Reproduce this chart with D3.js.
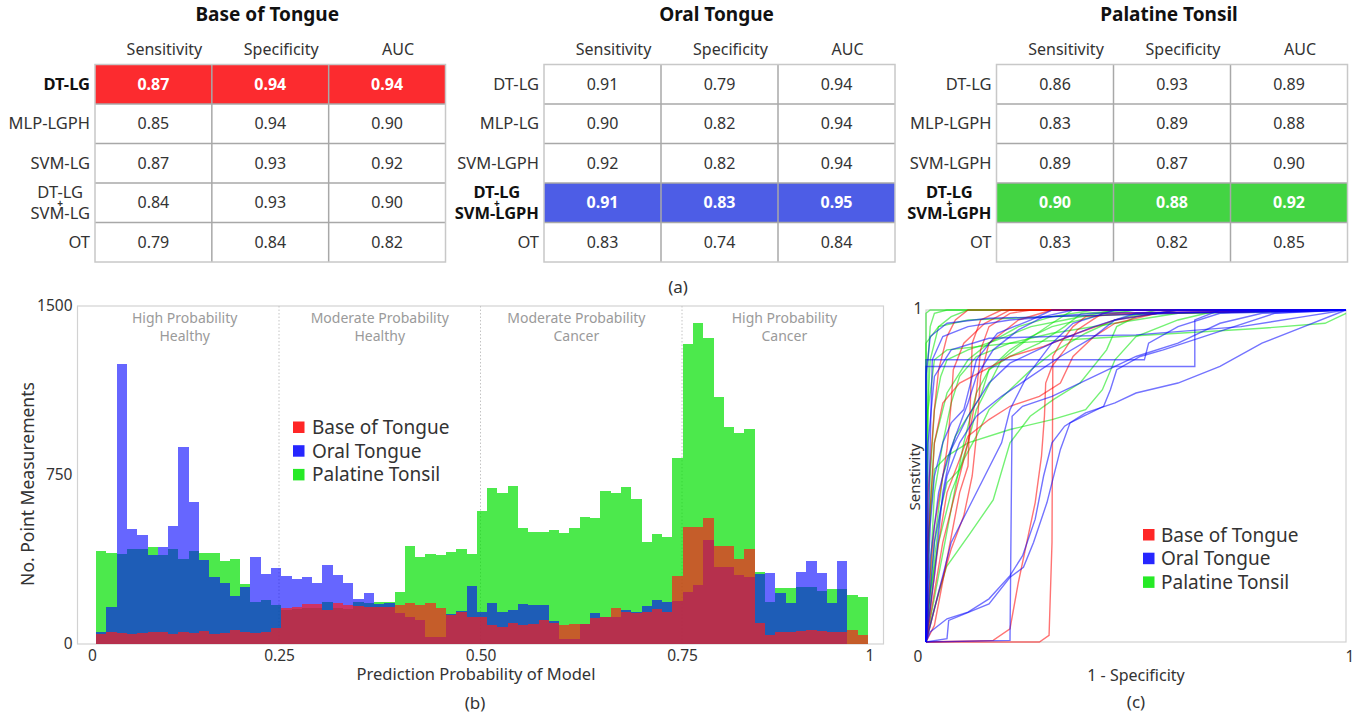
<!DOCTYPE html>
<html>
<head>
<meta charset="utf-8">
<script src="https://cdn.jsdelivr.net/npm/d3@7"></script>
<style>
body { margin: 0; background: #fff; }
text { font-family: "Noto Sans", "Open Sans", sans-serif; fill: #333; }
</style>
</head>
<body>
<svg id="fig" width="1363" height="717"></svg>
<script>
// ---- (a) tables ----
var sites = ["Base of Tongue", "Oral Tongue", "Palatine Tonsil"];
var metrics = ["Sensitivity", "Specificity", "AUC"];
var botModels = ["DT-LG", "MLP-LGPH", "SVM-LG", "DT-LG + SVM-LG", "OT"];
var otModels = ["DT-LG", "MLP-LG", "SVM-LGPH", "DT-LG + SVM-LGPH", "OT"];
var ptModels = ["DT-LG", "MLP-LGPH", "SVM-LGPH", "DT-LG + SVM-LGPH", "OT"];
var botScores = [[0.87, 0.94, 0.94], [0.85, 0.94, 0.90], [0.87, 0.93, 0.92], [0.84, 0.93, 0.90], [0.79, 0.84, 0.82]];
var otScores = [[0.91, 0.79, 0.94], [0.90, 0.82, 0.94], [0.92, 0.82, 0.94], [0.91, 0.83, 0.95], [0.83, 0.74, 0.84]];
var ptScores = [[0.86, 0.93, 0.89], [0.83, 0.89, 0.88], [0.89, 0.87, 0.90], [0.90, 0.88, 0.92], [0.83, 0.82, 0.85]];
var bestRow = [0, 3, 3];

// ---- (b) histogram, 75 bins ----
var regionNames = [["High Probability", "Healthy"], ["Moderate Probability", "Healthy"], ["Moderate Probability", "Cancer"], ["High Probability", "Cancer"]];
var regionBreaks = [0.25, 0.5, 0.75];
var binStart = 0.023, binWidth = 0.01277;
var ptCounts = [414,405,399,420,420,429,394,420,376,414,
  402,402,368,376,266,188,195,173,150,155,
  160,160,188,160,155,185,180,188,188,232,
  436,388,399,395,410,420,399,592,691,672,
  701,516,496,496,506,491,513,562,558,679,
  671,695,643,451,488,473,824,1330,1426,1357,
  1098,962,935,953,320,188,247,247,252,252,
  237,242,242,217,210];
var otCounts = [55,166,1241,512,482,394,429,525,876,632,
  373,299,269,213,252,385,311,336,302,287,
  296,272,351,305,272,200,228,178,180,136,
  121,107,33,30,135,145,257,143,183,143,
  151,178,172,172,104,21,21,90,139,118,
  121,151,143,169,195,188,190,232,262,462,
  340,343,306,299,311,316,228,183,321,368,
  316,183,368,0,0];
var botCounts = [43,52,47,43,47,55,52,43,55,47,
  58,43,50,62,55,50,55,70,158,166,
  178,178,151,180,173,169,163,163,166,173,
  183,173,180,158,129,143,121,121,84,77,
  92,84,88,107,95,84,88,88,114,118,
  158,141,136,141,154,143,302,521,521,558,
  435,435,376,423,92,40,53,53,59,62,
  59,53,53,62,40];

// ---- (c) ROC curves, [fpr, tpr] ----
var rocBot = [
  [[0,0],[0.27,0],[0.293,0.02],[0.3,0.3],[0.302,0.86],[0.32,0.9],[0.35,0.95],[0.38,0.98],[0.5,0.99],[1,1]],
  [[0,0],[0.16,0.005],[0.2,0.04],[0.22,0.18],[0.24,0.3],[0.26,0.42],[0.275,0.56],[0.282,0.68],[0.285,0.78],[0.3,0.83],[0.33,0.88],[0.36,0.94],[0.42,0.99],[1,1]],
  [[0,0],[0.01,0.1],[0.03,0.3],[0.05,0.45],[0.08,0.55],[0.1,0.62],[0.15,0.67],[0.2,0.71],[0.27,0.74],[0.32,0.78],[0.35,0.86],[0.4,0.92],[0.45,0.96],[0.55,0.99],[1,1]],
  [[0,0],[0.005,0.3],[0.02,0.6],[0.04,0.72],[0.08,0.78],[0.14,0.82],[0.2,0.86],[0.28,0.89],[0.36,0.93],[0.45,0.97],[0.6,1],[1,1]],
  [[0,0],[0.02,0.05],[0.05,0.25],[0.08,0.45],[0.1,0.53],[0.105,0.7],[0.11,0.9],[0.13,0.97],[0.18,1],[1,1]],
  [[0,0],[0.005,0.45],[0.02,0.7],[0.03,0.82],[0.05,0.92],[0.07,0.97],[0.1,1],[1,1]],
  [[0,0],[0.02,0.15],[0.04,0.3],[0.06,0.4],[0.08,0.5],[0.1,0.6],[0.12,0.75],[0.13,0.88],[0.15,0.95],[0.2,0.99],[0.25,1],[1,1]],
  [[0,0],[0.01,0.2],[0.02,0.35],[0.04,0.5],[0.05,0.58],[0.06,0.72],[0.065,0.82],[0.09,0.9],[0.14,0.96],[0.2,1],[1,1]],
  [[0,0],[0.03,0.15],[0.06,0.28],[0.09,0.38],[0.11,0.5],[0.12,0.62],[0.13,0.8],[0.15,0.9],[0.22,0.97],[0.3,1],[1,1]]
];
var rocOt = [
  [[0,0],[0.05,0.01],[0.054,0.065],[0.15,0.115],[0.2,0.195],[0.232,0.225],[0.256,0.3],[0.288,0.42],[0.32,0.58],[0.343,0.66],[0.375,0.68],[0.423,0.71],[0.439,0.76],[0.454,0.82],[0.51,0.86],[0.565,0.88],[0.71,0.94],[0.83,0.99],[1,1]],
  [[0,0],[0.01,0.03],[0.05,0.07],[0.1,0.09],[0.15,0.13],[0.2,0.2],[0.23,0.26],[0.26,0.37],[0.28,0.5],[0.3,0.6],[0.33,0.65],[0.38,0.69],[0.45,0.72],[0.5,0.75],[0.6,0.78],[0.7,0.83],[0.8,0.9],[0.9,0.95],[1,1]],
  [[0,0],[0,0.83],[0.64,0.83],[0.64,0.97],[0.7,1],[1,1]],
  [[0,0],[0,0.85],[0.52,0.85],[0.53,0.9],[0.6,0.95],[0.7,0.99],[1,1]],
  [[0,0],[0.2,0.005],[0.205,0.68],[0.23,0.71],[0.3,0.74],[0.4,0.8],[0.5,0.86],[0.6,0.9],[0.7,0.96],[0.8,0.99],[1,1]],
  [[0,0],[0.005,0.3],[0.01,0.6],[0.015,0.85],[0.04,0.92],[0.1,0.95],[0.2,0.97],[0.4,0.99],[1,1]],
  [[0,0],[0.02,0.2],[0.04,0.45],[0.06,0.58],[0.1,0.68],[0.15,0.78],[0.2,0.84],[0.3,0.9],[0.4,0.95],[0.5,0.99],[1,1]],
  [[0,0],[0.02,0.3],[0.05,0.5],[0.08,0.6],[0.12,0.68],[0.18,0.74],[0.25,0.8],[0.32,0.86],[0.4,0.92],[0.45,0.97],[0.6,1],[1,1]],
  [[0,0],[0.03,0.15],[0.06,0.3],[0.1,0.4],[0.14,0.5],[0.18,0.6],[0.2,0.7],[0.24,0.8],[0.3,0.9],[0.35,0.96],[0.45,1],[1,1]],
  [[0,0],[0,0.8],[0.01,0.92],[0.05,0.96],[0.15,0.975],[0.3,0.98],[0.6,0.99],[1,1]],
  [[0,0],[0.01,0.25],[0.03,0.45],[0.05,0.55],[0.07,0.62],[0.1,0.72],[0.12,0.8],[0.16,0.88],[0.22,0.94],[0.28,0.98],[0.35,1],[1,1]],
  [[0,0],[0.01,0.35],[0.02,0.5],[0.04,0.6],[0.06,0.66],[0.09,0.7],[0.12,0.85],[0.17,0.93],[0.25,0.97],[0.3,1],[1,1]],
  [[0,0],[0.005,0.6],[0.02,0.8],[0.06,0.88],[0.15,0.915],[0.3,0.92],[0.5,0.925],[0.75,0.95],[0.9,0.98],[1,1]]
];
var rocPt = [
  [[0,0],[0.005,0.7],[0.02,0.85],[0.05,0.88],[0.2,0.9],[0.4,0.915],[0.6,0.93],[0.8,0.945],[0.95,0.96],[1,0.99]],
  [[0,0],[0.02,0.1],[0.049,0.227],[0.105,0.327],[0.16,0.428],[0.2,0.6],[0.248,0.68],[0.303,0.73],[0.367,0.78],[0.43,0.88],[0.454,0.95],[0.5,0.98],[0.6,1],[1,1]],
  [[0,0],[0.005,0.3],[0.02,0.52],[0.05,0.56],[0.1,0.6],[0.2,0.64],[0.3,0.67],[0.38,0.7],[0.42,0.76],[0.45,0.85],[0.5,0.92],[0.6,0.97],[0.7,1],[1,1]],
  [[0,0],[0.01,0.4],[0.02,0.6],[0.05,0.75],[0.1,0.85],[0.15,0.9],[0.22,0.95],[0.3,0.98],[0.4,1],[1,1]],
  [[0,0],[0.005,0.85],[0.01,0.95],[0.02,0.99],[0.05,1],[1,1]],
  [[0,0],[0,0.99],[0.01,1],[1,1]],
  [[0,0],[0.03,0.2],[0.06,0.4],[0.09,0.6],[0.12,0.75],[0.15,0.82],[0.2,0.88],[0.25,0.92],[0.3,0.95],[0.4,0.98],[0.5,1],[1,1]],
  [[0,0],[0.01,0.2],[0.02,0.45],[0.04,0.6],[0.06,0.72],[0.08,0.8],[0.12,0.86],[0.2,0.9],[0.3,0.93],[0.45,0.96],[0.6,0.99],[1,1]],
  [[0,0],[0.02,0.3],[0.04,0.5],[0.07,0.62],[0.1,0.68],[0.13,0.74],[0.15,0.82],[0.2,0.86],[0.27,0.9],[0.33,0.95],[0.37,0.99],[0.5,1],[1,1]],
  [[0,0],[0.01,0.1],[0.02,0.25],[0.035,0.4],[0.05,0.48],[0.08,0.52],[0.1,0.6],[0.12,0.7],[0.14,0.75],[0.18,0.85],[0.23,0.9],[0.3,0.96],[0.35,1],[1,1]],
  [[0,0],[0,0.9],[0.03,0.95],[0.1,0.97],[0.3,0.98],[0.6,0.99],[1,1]],
  [[0,0],[0.01,0.5],[0.02,0.7],[0.035,0.8],[0.05,0.85],[0.1,0.88],[0.17,0.91],[0.25,0.95],[0.33,0.97],[0.45,1],[1,1]],
  [[0,0],[0.01,0.15],[0.03,0.3],[0.06,0.45],[0.09,0.55],[0.12,0.62],[0.15,0.7],[0.2,0.76],[0.25,0.82],[0.3,0.87],[0.38,0.93],[0.45,0.97],[0.55,1],[1,1]],
  [[0,0],[0,0.6],[0.01,0.85],[0.03,0.95],[0.06,0.98],[0.1,1],[1,1]]
];

var siteColors = ["#ff0000", "#0000ff", "#00e600"];
var hiColors = ["#fc2b2f", "#4d5de6", "#43d443"];

var svg = d3.select("#fig");

// ============ tables ============
function drawTable(x0, x1, title, models, scores, best, hi) {
  var g = svg.append("g");
  var col = d3.scaleBand().domain(metrics).range([x0, x1]);
  var row = d3.scaleBand().domain(d3.range(models.length)).range([64.5, 262]);

  g.append("text").attr("x", (x0 + x1) / 2 - 3).attr("y", 21)
    .attr("text-anchor", "middle").style("font-size", "19px").style("font-weight", "bold")
    .style("fill", "#111").text(title);

  g.selectAll(".hdr").data(metrics).enter().append("text")
    .attr("x", function(d) { return col(d) + col.bandwidth() / 2 + 11; })
    .attr("y", 55).attr("text-anchor", "middle").style("font-size", "16px")
    .text(function(d) { return d; });

  // highlighted row
  g.append("rect").attr("x", x0).attr("y", row(best))
    .attr("width", x1 - x0).attr("height", row.bandwidth()).attr("fill", hi);

  // grid
  g.selectAll(".hl").data(d3.range(1, models.length)).enter().append("line")
    .attr("x1", x0).attr("x2", x1)
    .attr("y1", function(d) { return row(d); }).attr("y2", function(d) { return row(d); })
    .attr("stroke", "#a8a8a8").attr("stroke-width", 1.5);
  g.selectAll(".vl").data(metrics.slice(1)).enter().append("line")
    .attr("y1", row(0)).attr("y2", row(models.length - 1) + row.bandwidth())
    .attr("x1", function(d) { return col(d); }).attr("x2", function(d) { return col(d); })
    .attr("stroke", "#a8a8a8").attr("stroke-width", 1.5);
  g.append("rect").attr("x", x0).attr("y", row(0)).attr("width", x1 - x0)
    .attr("height", row(models.length - 1) + row.bandwidth() - row(0))
    .attr("fill", "none").attr("stroke", "#c8c8c8").attr("stroke-width", 1.5);

  // values
  scores.forEach(function(vals, i) {
    g.selectAll(null).data(vals).enter().append("text")
      .attr("x", function(d, j) { return col(metrics[j]) + col.bandwidth() / 2; })
      .attr("y", row(i) + row.bandwidth() / 2 + 5.5)
      .attr("text-anchor", "middle").style("font-size", "16px")
      .style("font-weight", i === best ? "bold" : "normal")
      .style("fill", i === best ? "#fff" : "#333")
      .text(function(d) { return d.toFixed(2); });
  });

  // row labels
  models.forEach(function(m, i) {
    var mid = row(i) + row.bandwidth() / 2;
    var parts = m.split(" + ");
    var lab = g.append("g");
    if (parts.length === 1) {
      lab.append("text").attr("x", x0 - 5).attr("y", mid + 5.5)
        .attr("text-anchor", "end").style("font-size", "16.5px")
        .style("font-weight", i === best ? "bold" : "normal")
        .style("fill", i === best ? "#111" : "#333").text(m);
    } else {
      var t1 = lab.append("text").attr("y", mid - 5).text(parts[0]);
      var t2 = lab.append("text").attr("y", mid + 16).text(parts[1]);
      lab.selectAll("text").attr("text-anchor", "middle").style("font-size", "16.5px")
        .style("font-weight", i === best ? "bold" : "normal")
        .style("fill", i === best ? "#111" : "#333");
      var w = Math.max(t1.node().getComputedTextLength(), t2.node().getComputedTextLength());
      var cx = x0 - 5 - w / 2;
      lab.selectAll("text").attr("x", cx);
      lab.append("text").attr("x", cx).attr("y", mid + 4.5).attr("text-anchor", "middle")
        .style("font-size", "10px").style("font-weight", "bold")
        .style("fill", i === best ? "#111" : "#333").text("+");
    }
  });
}

drawTable(95, 445.5, sites[0], botModels, botScores, bestRow[0], hiColors[0]);
drawTable(544, 895, sites[1], otModels, otScores, bestRow[1], hiColors[1]);
drawTable(996.5, 1347.5, sites[2], ptModels, ptScores, bestRow[2], hiColors[2]);

svg.append("text").attr("x", 678).attr("y", 293).attr("text-anchor", "middle")
  .style("font-size", "17px").text("(a)");

// ============ histogram ============
var hx = d3.scaleLinear().domain([0, 1]).range([77.5, 883.5]);
var hy = d3.scaleLinear().domain([0, 1500]).range([644, 306]);
var hg = svg.append("g");

hg.append("rect").attr("x", hx(0)).attr("y", hy(1500))
  .attr("width", hx(1) - hx(0)).attr("height", hy(0) - hy(1500))
  .attr("fill", "none").attr("stroke", "#d2d2d2").attr("stroke-width", 1.2);

hg.selectAll(".rb").data(regionBreaks).enter().append("line")
  .attr("x1", function(d) { return hx(d); }).attr("x2", function(d) { return hx(d); })
  .attr("y1", hy(1500)).attr("y2", hy(0))
  .attr("stroke", "#c4c4c4").attr("stroke-width", 1).attr("stroke-dasharray", "1.5,2");

var series = [
  { counts: ptCounts, color: "#00e000", op: 0.7 },
  { counts: otCounts, color: "#0000ff", op: 0.6 },
  { counts: botCounts, color: "#ff1a1a", op: 0.68 }
];
series.forEach(function(s) {
  hg.append("g").attr("fill", s.color).attr("fill-opacity", s.op)
    .selectAll("rect").data(s.counts).enter().append("rect")
    .attr("shape-rendering", "crispEdges")
    .attr("x", function(d, i) { return hx(binStart + i * binWidth); })
    .attr("width", hx(binWidth) - hx(0))
    .attr("y", function(d) { return hy(d); })
    .attr("height", function(d) { return hy(0) - hy(d); });
});

// region labels
var regionMid = [0.133, 0.375, 0.619, 0.877];
regionNames.forEach(function(r, i) {
  var t = hg.append("text").attr("text-anchor", "middle").style("font-size", "14px").style("fill", "#9a9a9a");
  t.append("tspan").attr("x", hx(regionMid[i])).attr("y", 323).text(r[0]);
  t.append("tspan").attr("x", hx(regionMid[i])).attr("y", 341).text(r[1]);
});

// axes
var hxa = hg.append("g").attr("transform", "translate(0," + hy(0) + ")")
  .call(d3.axisBottom(hx).tickValues([0, 0.25, 0.5, 0.75, 1]).tickSize(0).tickPadding(6)
    .tickFormat(function(d) { return d === 0 ? "0" : d === 1 ? "1" : d3.format(".2f")(d); }));
hxa.select(".domain").remove();
hxa.selectAll("text").style("font-size", "15.5px").style("fill", "#333").attr("font-family", null);
hxa.selectAll(".tick").filter(function(d) { return d === 0; }).select("text").attr("dx", 14.5);
hxa.selectAll(".tick").filter(function(d) { return d === 1; }).select("text").attr("dx", -14);

var hya = hg.append("g").attr("transform", "translate(" + hx(0) + ",0)")
  .call(d3.axisLeft(hy).tickValues([0, 750, 1500]).tickSize(0).tickPadding(5).tickFormat(d3.format("d")));
hya.select(".domain").remove();
hya.selectAll("text").style("font-size", "15.5px").style("fill", "#333").attr("font-family", null);

hg.append("text").attr("x", 476).attr("y", 680).attr("text-anchor", "middle")
  .style("font-size", "16.5px").text("Prediction Probability of Model");
hg.append("text").attr("transform", "translate(34,484) rotate(-90)").attr("text-anchor", "middle")
  .style("font-size", "17.5px").text("No. Point Measurements");
hg.append("text").attr("x", 475).attr("y", 709).attr("text-anchor", "middle")
  .style("font-size", "17px").text("(b)");

// legend
var hleg = hg.append("g").selectAll("g").data(sites).enter().append("g")
  .attr("transform", function(d, i) { return "translate(293," + (427.5 + i * 23.7) + ")"; });
hleg.append("rect").attr("x", 0).attr("y", -6).attr("width", 11.5).attr("height", 11.5)
  .attr("fill", function(d, i) { return siteColors[i]; }).attr("fill-opacity", 0.85);
hleg.append("text").attr("x", 19).attr("y", 6.5).style("font-size", "19px")
  .text(function(d) { return d; });

// ============ ROC ============
var rx = d3.scaleLinear().domain([0, 1]).range([926, 1346]);
var ry = d3.scaleLinear().domain([0, 1]).range([642, 310]);
var rg = svg.append("g");

rg.append("rect").attr("x", rx(0)).attr("y", ry(1)).attr("width", rx(1) - rx(0))
  .attr("height", ry(0) - ry(1)).attr("fill", "none").attr("stroke", "#d2d2d2").attr("stroke-width", 1.2);

var line = d3.line().x(function(d) { return rx(d[0]); }).y(function(d) { return ry(d[1]); });
[[rocPt, siteColors[2]], [rocBot, siteColors[0]], [rocOt, siteColors[1]]].forEach(function(set) {
  rg.append("g").selectAll("path").data(set[0]).enter().append("path")
    .attr("d", line).attr("fill", "none").attr("stroke", set[1])
    .attr("stroke-opacity", 0.55).attr("stroke-width", 1.4);
});

rg.append("text").attr("x", rx(0) - 8).attr("y", ry(0) + 20).attr("text-anchor", "middle")
  .style("font-size", "15.5px").text("0");
rg.append("text").attr("x", rx(1) + 4).attr("y", ry(0) + 20).attr("text-anchor", "middle")
  .style("font-size", "15.5px").text("1");
rg.append("text").attr("x", rx(0) - 8).attr("y", ry(1) + 4).attr("text-anchor", "middle")
  .style("font-size", "15.5px").text("1");
rg.append("text").attr("x", 1136).attr("y", 681).attr("text-anchor", "middle")
  .style("font-size", "16px").text("1 - Specificity");
rg.append("text").attr("transform", "translate(920,477) rotate(-90)").attr("text-anchor", "middle")
  .style("font-size", "15px").text("Senstivity");
rg.append("text").attr("x", 1136).attr("y", 708).attr("text-anchor", "middle")
  .style("font-size", "17px").text("(c)");

var rleg = rg.append("g").selectAll("g").data(sites).enter().append("g")
  .attr("transform", function(d, i) { return "translate(1143," + (535 + i * 23.7) + ")"; });
rleg.append("rect").attr("x", 0).attr("y", -6).attr("width", 11.5).attr("height", 11.5)
  .attr("fill", function(d, i) { return siteColors[i]; }).attr("fill-opacity", 0.85);
rleg.append("text").attr("x", 18).attr("y", 6.5).style("font-size", "19px")
  .text(function(d) { return d; });
</script>
</body>
</html>
